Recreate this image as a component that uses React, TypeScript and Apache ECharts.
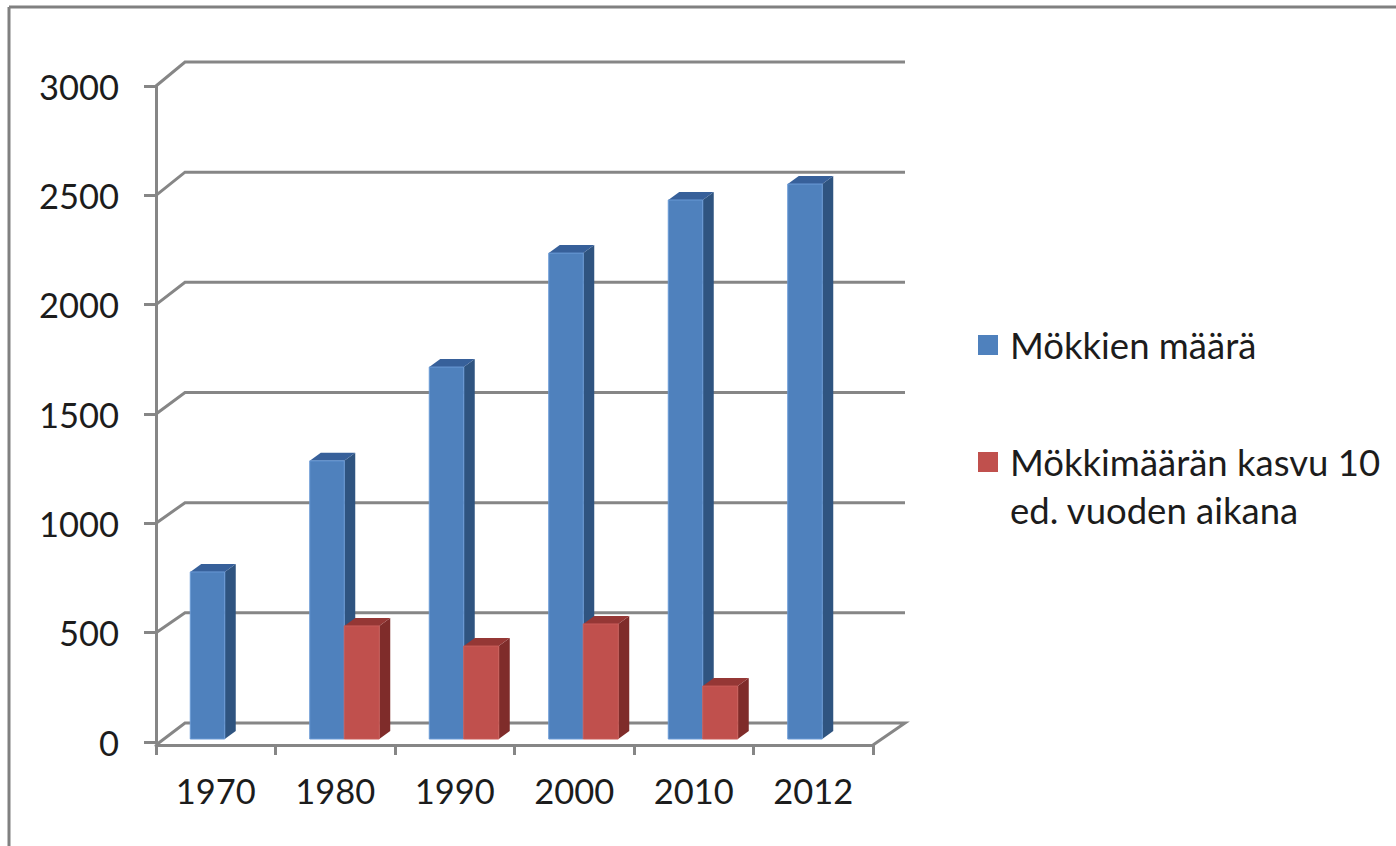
import React, { useEffect, useRef } from "react";
import * as echarts from "echarts";

const categories = ["1970", "1980", "1990", "2000", "2010", "2012"];
const cottageCounts = [764, 1272, 1701, 2222, 2465, 2538];
const cottageGrowth: (number | null)[] = [null, 517, 425, 526, 242, null];
const axisTicks = [0, 500, 1000, 1500, 2000, 2500, 3000];
const seriesNames = ["Mökkien määrä", "Mökkimäärän kasvu 10\ned. vuoden aikana"];

const FONT = "Lato, 'Noto Sans', sans-serif";
const TEXT = "#1c1c1c";
const AXIS = "#868686";

const bar3d = (
  slot: number,
  width: number,
  front: string,
  top: string,
  side: string,
  edge: string
) => (params: any, api: any) => {
  const raw = api.value(1);
  if (raw === null || raw === undefined || Number.isNaN(raw)) return null;
  const DX = 11;
  const DY = 8;
  const LIFT = 3;
  const c = api.coord([api.value(0), raw]);
  const base = api.coord([api.value(0), 0]);
  const x0 = c[0] + slot;
  const x1 = x0 + width;
  const yT = c[1] - LIFT;
  const yB = base[1] - LIFT;
  return {
    type: "group",
    children: [
      {
        type: "polygon",
        shape: { points: [[x1, yB], [x1 + DX, yB - DY], [x1 + DX, yT - DY], [x1, yT]] },
        style: { fill: side },
      },
      {
        type: "polygon",
        shape: { points: [[x0, yT], [x0 + DX, yT - DY], [x1 + DX, yT - DY], [x1, yT]] },
        style: { fill: top },
      },
      {
        type: "rect",
        shape: { x: x0, y: yT, width, height: yB - yT },
        style: { fill: front, stroke: edge, lineWidth: 1 },
      },
    ],
  };
};

const wallLines = (params: any, api: any) => {
  const v = api.value(0);
  const cs = params.coordSys;
  const y = api.coord([0, v])[1];
  const backX = cs.x + 29;
  const endX = 905;
  const backY = y - (19 + (5 * v) / 3000);
  const points =
    v === 0
      ? [[cs.x, y + 3], [backX, backY], [endX, backY], [cs.x + cs.width, y + 3]]
      : [[cs.x, y], [backX, backY], [endX, backY]];
  return {
    type: "polyline",
    shape: { points },
    style: { stroke: AXIS, lineWidth: 3, fill: "none" },
  };
};

export default function App() {
  const ref = useRef<HTMLDivElement>(null);
  useEffect(() => {
    const chart = echarts.init(ref.current!, null, { renderer: "svg" });
    chart.setOption({
      animation: false,
      backgroundColor: "#ffffff",
      grid: { left: 156, right: 523, top: 86, bottom: 104, containLabel: false },
      legend: {
        data: seriesNames.map((name) => ({ name, icon: "rect" })),
        orient: "vertical",
        left: 973,
        top: 316,
        itemWidth: 20,
        itemHeight: 20,
        itemGap: 21,
        selectedMode: false,
        align: "left",
        formatter: (n: string) => (n === seriesNames[1] ? "\n" + n : n),
        textStyle: {
          fontFamily: FONT,
          fontSize: 36.5,
          color: TEXT,
          lineHeight: 48,
          padding: [0, 0, 0, 7],
        },
      },
      xAxis: {
        type: "category",
        data: categories,
        offset: 3,
        axisLine: { onZero: false, lineStyle: { color: AXIS, width: 3 } },
        axisTick: { show: true, length: 10, lineStyle: { color: AXIS, width: 3 } },
        axisLabel: { fontFamily: FONT, fontSize: 34.5, color: TEXT, margin: 28, interval: 0 },
        splitLine: { show: false },
      },
      yAxis: {
        type: "value",
        min: 0,
        max: 3000,
        interval: 500,
        axisLine: { show: true, lineStyle: { color: AXIS, width: 3 } },
        axisTick: { show: true, length: 12, lineStyle: { color: AXIS, width: 3 } },
        axisLabel: {
          fontFamily: FONT,
          fontSize: 34.5,
          color: TEXT,
          margin: 37,
          formatter: (v: number) => String(v),
        },
        splitLine: { show: false },
      },
      graphic: [
        { type: "line", shape: { x1: 9, y1: 7, x2: 9, y2: 846 }, style: { stroke: "#808080", lineWidth: 3 } },
        { type: "line", shape: { x1: 9, y1: 7, x2: 1396, y2: 7 }, style: { stroke: "#808080", lineWidth: 3 } },
      ],
      series: [
        {
          name: "wall",
          type: "custom",
          z: 1,
          silent: true,
          coordinateSystem: "cartesian2d",
          renderItem: wallLines,
          encode: { y: 0 },
          data: axisTicks.map((v) => [v]),
        },
        {
          name: seriesNames[0],
          type: "custom",
          z: 3,
          coordinateSystem: "cartesian2d",
          itemStyle: { color: "#4F81BD" },
          encode: { x: 0, y: 1 },
          renderItem: bar3d(-25.5, 34.5, "#4F81BD", "#37609A", "#2F5480", "#6A9AD6"),
          data: cottageCounts.map((v, i) => [i, v]),
        },
        {
          name: seriesNames[1],
          type: "custom",
          z: 4,
          coordinateSystem: "cartesian2d",
          itemStyle: { color: "#C0504D" },
          encode: { x: 0, y: 1 },
          renderItem: bar3d(9, 35, "#C0504D", "#953735", "#7F2C2A", "#C85C59"),
          data: cottageGrowth.map((v, i) => [i, v === null ? "-" : v]),
        },
      ],
    });
    return () => chart.dispose();
  }, []);
  return (
    <div
      ref={ref}
      style={{ position: "fixed", left: 0, top: 0, width: 1396, height: 846 }}
    />
  );
}
